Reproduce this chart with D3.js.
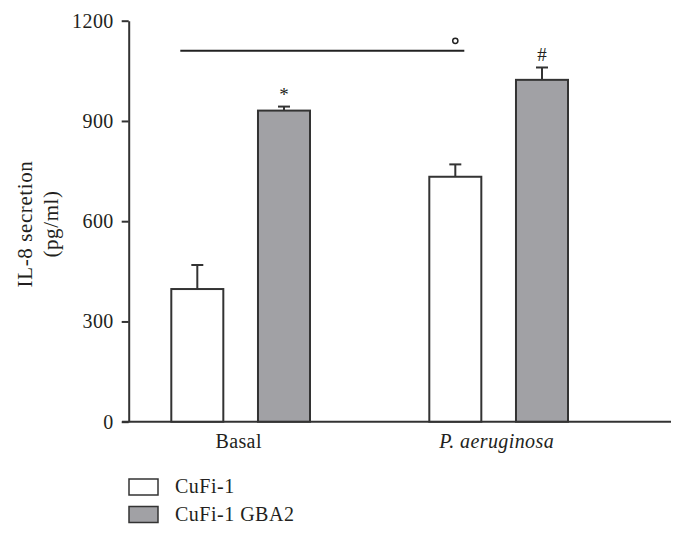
<!DOCTYPE html>
<html>
<head>
<meta charset="utf-8">
<script src="https://cdn.jsdelivr.net/npm/d3@7"></script>
<style>
  body { margin: 0; background: #fff; }
  text { font-family: "Liberation Serif", "DejaVu Serif", serif; fill: #231f20; }
</style>
</head>
<body>
<div id="chart"></div>
<script>
var width = 686, height = 537;

// data
var categories = ["Basal", "P. aeruginosa"];
var series = ["CuFi-1", "CuFi-1 GBA2"];
var cufi1 = [397, 733];
var cufi1Err = [72, 37];
var gba2 = [931, 1023];
var gba2Err = [12, 37];
var marks = ["*", "#"];
var yTicks = [0, 300, 600, 900, 1200];
var bracketValue = 1110;

var colors = { "CuFi-1": "#ffffff", "CuFi-1 GBA2": "#a1a1a5" };
var ink = "#333333";

var rows = [];
categories.forEach(function(c, i) {
    rows.push({ cat: c, ser: series[0], v: cufi1[i], e: cufi1Err[i] });
    rows.push({ cat: c, ser: series[1], v: gba2[i], e: gba2Err[i], mark: marks[i] });
});

var svg = d3.select("#chart").append("svg")
    .attr("width", width)
    .attr("height", height);

var y = d3.scaleLinear().domain([0, 1200]).range([421.7, 20.7]);
var x = d3.scaleBand().domain(categories).range([111.7, 627.7]);
var xs = d3.scaleBand().domain(series).range([59.6, 198.3]).paddingInner(0.4);

// y axis
var yAxis = svg.append("g")
    .attr("transform", "translate(128.7,0)")
    .call(d3.axisLeft(y).tickValues(yTicks).tickFormat(d3.format("d"))
        .tickSize(7).tickSizeOuter(0).tickPadding(8));
yAxis.selectAll("path, line").attr("stroke", ink).attr("stroke-width", 2);
yAxis.selectAll("text").style("font-size", "20px").style("letter-spacing", "0.4px").attr("font-family", null);

// x axis baseline
svg.append("line")
    .attr("x1", 122).attr("x2", 671)
    .attr("y1", y(0)).attr("y2", y(0))
    .attr("stroke", ink).attr("stroke-width", 2);

svg.selectAll(".xlab")
    .data(categories)
    .enter().append("text")
    .attr("class", "xlab")
    .attr("x", function(d) { return x(d) + xs("CuFi-1") + (xs("CuFi-1 GBA2") + xs.bandwidth() - xs("CuFi-1")) / 2 - 2; })
    .attr("y", 448)
    .attr("text-anchor", "middle")
    .style("font-size", "20px")
    .style("letter-spacing", "0.4px")
    .style("font-style", function(d, i) { return i == 1 ? "italic" : "normal"; })
    .text(function(d) { return d; });

// bars
var g = svg.append("g");
g.selectAll("rect")
    .data(rows)
    .enter().append("rect")
    .attr("x", function(d) { return x(d.cat) + xs(d.ser); })
    .attr("y", function(d) { return y(d.v); })
    .attr("width", xs.bandwidth())
    .attr("height", function(d) { return y(0) - y(d.v); })
    .attr("fill", function(d) { return colors[d.ser]; })
    .attr("stroke", ink)
    .attr("stroke-width", 2);

// error bars
g.selectAll(".err")
    .data(rows)
    .enter().append("line")
    .attr("class", "err")
    .attr("x1", function(d) { return x(d.cat) + xs(d.ser) + xs.bandwidth() / 2; })
    .attr("x2", function(d) { return x(d.cat) + xs(d.ser) + xs.bandwidth() / 2; })
    .attr("y1", function(d) { return y(d.v); })
    .attr("y2", function(d) { return y(d.v + d.e); })
    .attr("stroke", ink).attr("stroke-width", 2);
g.selectAll(".cap")
    .data(rows)
    .enter().append("line")
    .attr("class", "cap")
    .attr("x1", function(d) { return x(d.cat) + xs(d.ser) + xs.bandwidth() / 2 - 6; })
    .attr("x2", function(d) { return x(d.cat) + xs(d.ser) + xs.bandwidth() / 2 + 6; })
    .attr("y1", function(d) { return y(d.v + d.e); })
    .attr("y2", function(d) { return y(d.v + d.e); })
    .attr("stroke", ink).attr("stroke-width", 2);

// significance marks
g.selectAll(".mark")
    .data(rows.filter(function(d) { return d.mark; }))
    .enter().append("text")
    .attr("class", "mark")
    .attr("x", function(d) { return x(d.cat) + xs(d.ser) + xs.bandwidth() / 2; })
    .attr("y", function(d) { return y(d.v + d.e) - 6; })
    .attr("text-anchor", "middle")
    .style("font-size", "19px")
    .text(function(d) { return d.mark; });

// bracket between groups
var bx1 = x(categories[0]) + xs(series[0]) + 9;
var bx2 = x(categories[1]) + xs(series[0]) + xs.bandwidth() - 17;
svg.append("line")
    .attr("x1", bx1).attr("x2", bx2)
    .attr("y1", y(bracketValue)).attr("y2", y(bracketValue))
    .attr("stroke", "#222").attr("stroke-width", 2);
svg.append("circle")
    .attr("cx", bx2 - 9).attr("cy", y(bracketValue) - 10)
    .attr("r", 2.6)
    .attr("fill", "none").attr("stroke", "#222").attr("stroke-width", 1.5);

// y title
var yt = svg.append("text")
    .attr("transform", "translate(0,224) rotate(-90)")
    .attr("text-anchor", "middle")
    .style("font-size", "21px")
    .style("letter-spacing", "0.6px");
yt.append("tspan").attr("x", 0).attr("y", 32).text("IL-8 secretion");
yt.append("tspan").attr("x", 0).attr("y", 58).text("(pg/ml)");

// legend
var leg = svg.selectAll(".leg")
    .data(series)
    .enter().append("g")
    .attr("class", "leg")
    .attr("transform", function(d, i) { return "translate(129," + (479 + i * 27.5) + ")"; });
leg.append("rect")
    .attr("width", 29).attr("height", 16)
    .attr("fill", function(d) { return colors[d]; })
    .attr("stroke", ink).attr("stroke-width", 1.5);
leg.append("text")
    .attr("x", 46).attr("y", 14)
    .style("font-size", "20px")
    .style("letter-spacing", "0.5px")
    .text(function(d) { return d; });
</script>
</body>
</html>
